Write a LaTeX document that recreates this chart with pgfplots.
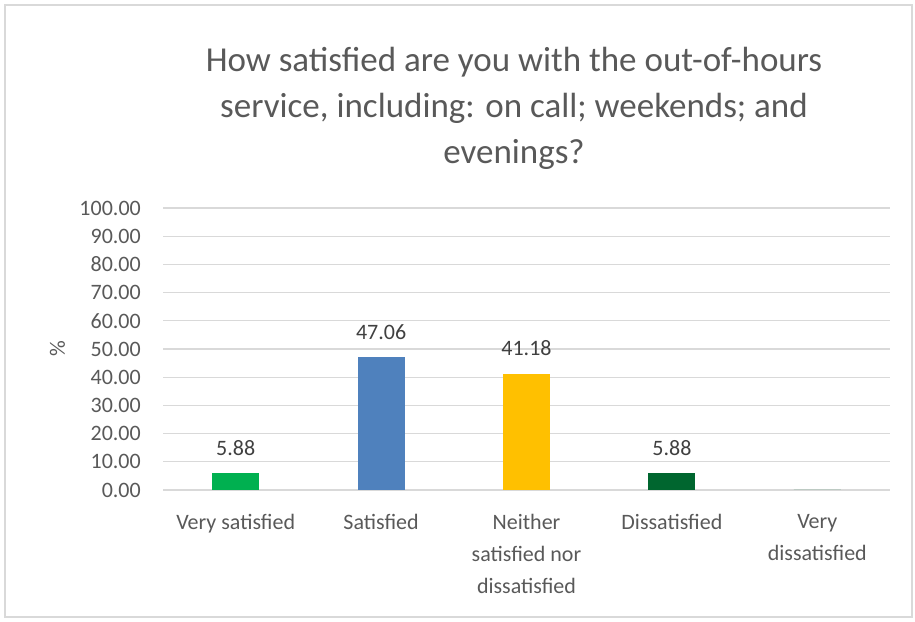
\documentclass[border=0pt]{standalone}
\usepackage{pgfplots}
\pgfplotsset{compat=1.18}
\usepackage{fontspec}
\setmainfont{Carlito}
\definecolor{vsat}{HTML}{00B050}
\definecolor{sat}{HTML}{4F81BD}
\definecolor{neith}{HTML}{FFC000}
\definecolor{dis}{HTML}{00662F}
\definecolor{txtgray}{HTML}{595959}
\definecolor{lblgray}{HTML}{404040}
\definecolor{gridgray}{HTML}{D9D9D9}
\begin{document}
\begin{tikzpicture}[x=1bp,y=1bp]
\path[use as bounding box] (0,0) rectangle (915,622);
\draw[gridgray, line width=1.5bp] (5,5) rectangle (912,617);
\node[anchor=north, align=center, inner sep=0, text=txtgray, font=\fontsize{35bp}{46bp}\selectfont] at (514,575)
 {How satisfied are you with the out-of-hours\\service, including: on call; weekends; and\\evenings?};
\begin{axis}[
 at={(163bp,132bp)}, anchor=south west,
 scale only axis, width=727bp, height=282bp,
 ymin=0, ymax=100, ytick={0,10,...,100},
 xmin=-0.5, xmax=4.5, xtick={0,1,2,3,4},
 xticklabels={Very satisfied, Satisfied, {Neither\\satisfied nor\\dissatisfied}, Dissatisfied, {Very\\dissatisfied}},
 axis line style={draw=none},
 major tick length=0pt,
 ymajorgrids, major grid style={gridgray, line width=1.2bp},
 /pgf/number format/assume math mode=true,
 yticklabel={\pgfmathprintnumber[fixed,fixed zerofill,precision=2]{\tick}},
 yticklabel style={anchor=east, inner sep=0pt, xshift=-22bp, text=txtgray, font=\fontsize{22bp}{26bp}\selectfont},
 xticklabel style={anchor=north, inner sep=0pt, yshift=-24bp, align=center, text=txtgray, font=\fontsize{22bp}{32bp}\selectfont},
 ylabel={\%},
 ylabel style={at={(axis description cs:-0.145,0.5)}, anchor=center, text=txtgray, font=\fontsize{22bp}{26bp}\selectfont},
 nodes near coords style={anchor=south, inner sep=0pt, yshift=17.5bp, text=lblgray, font=\fontsize{22bp}{26bp}\selectfont},
 clip=false,
]
\addplot[ybar, bar width=47bp, bar shift=0pt, fill=vsat, draw=none,
 nodes near coords={\pgfmathprintnumber[fixed,fixed zerofill,precision=2]{\pgfplotspointmeta}}] coordinates {(0,5.88)};
\addplot[ybar, bar width=47bp, bar shift=0pt, fill=sat, draw=none,
 nodes near coords={\pgfmathprintnumber[fixed,fixed zerofill,precision=2]{\pgfplotspointmeta}}] coordinates {(1,47.06)};
\addplot[ybar, bar width=47bp, bar shift=0pt, fill=neith, draw=none,
 nodes near coords={\pgfmathprintnumber[fixed,fixed zerofill,precision=2]{\pgfplotspointmeta}}] coordinates {(2,41.18)};
\addplot[ybar, bar width=47bp, bar shift=0pt, fill=dis, draw=none,
 nodes near coords={\pgfmathprintnumber[fixed,fixed zerofill,precision=2]{\pgfplotspointmeta}}] coordinates {(3,5.88)};
\addplot[ybar, bar width=47bp, bar shift=0pt, fill=dis, draw=none] coordinates {(4,0)};
\end{axis}
\end{tikzpicture}
\end{document}
